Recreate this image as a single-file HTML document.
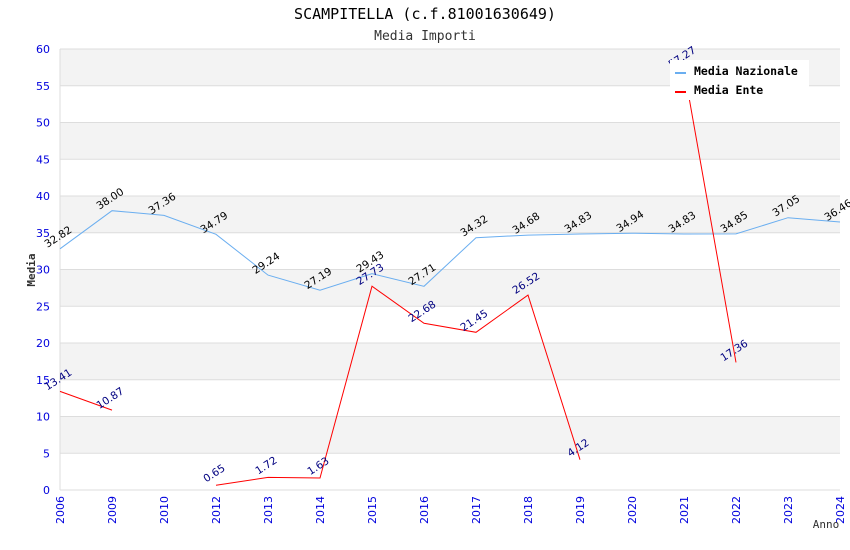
<!DOCTYPE html>
<html><head><meta charset="utf-8"><style>
body{margin:0;background:#fff;}
svg{display:block;}
</style></head><body>
<svg id="chart" width="850" height="550" xmlns="http://www.w3.org/2000/svg">
<text x="425" y="19" text-anchor="middle" font-family="DejaVu Sans Mono, monospace" font-size="15" fill="#000">SCAMPITELLA (c.f.81001630649)</text>
<text x="425" y="40" text-anchor="middle" font-family="DejaVu Sans Mono, monospace" font-size="13" fill="#333">Media Importi</text>
<g id="bands"></g>
<g id="grid"></g>
<g id="yticks"></g>
<g id="xticks"></g>
<g id="series"></g>
<g id="labels"></g>
<text transform="translate(35,270) rotate(-90)" text-anchor="middle" font-family="DejaVu Sans Mono, monospace" font-size="11" font-weight="bold" fill="#333">Media</text>
<text x="826" y="528" text-anchor="middle" font-family="DejaVu Sans Mono, monospace" font-size="11" fill="#333">Anno</text>
<g>
<rect x="670" y="60" width="139" height="40" fill="#fff"/>
<line x1="675" y1="73" x2="686" y2="73" stroke="#6aaef0" stroke-width="2"/>
<text x="694" y="75" font-family="DejaVu Sans Mono, monospace" font-size="11.5" font-weight="bold">Media Nazionale</text>
<line x1="675" y1="92" x2="686" y2="92" stroke="#ff0000" stroke-width="2"/>
<text x="694" y="94" font-family="DejaVu Sans Mono, monospace" font-size="11.5" font-weight="bold">Media Ente</text>
</g>
</svg>
<script>
const categories=["2006","2009","2010","2012","2013","2014","2015","2016","2017","2018","2019","2020","2021","2022","2023","2024"];
const nazionale=[32.82,38.00,37.36,34.79,29.24,27.19,29.43,27.71,34.32,34.68,34.83,34.94,34.83,34.85,37.05,36.46];
const ente=[13.41,10.87,null,0.65,1.72,1.63,27.73,22.68,21.45,26.52,4.12,null,57.27,17.36,null,null];
const yTicks=[0,5,10,15,20,25,30,35,40,45,50,55,60];
const NS="http://www.w3.org/2000/svg";
const L=60,R=840,T=49,B=490,yMax=60;
const x=i=>L+i*(R-L)/(categories.length-1);
const y=v=>B-v*(B-T)/yMax;
function mk(tag,attrs,parent){const e=document.createElementNS(NS,tag);for(const k in attrs)e.setAttribute(k,attrs[k]);document.getElementById(parent).appendChild(e);return e;}
for(let i=0;i<yTicks.length-1;i++){
  if(i%2===1){const r=mk('rect',{x:L,y:y(yTicks[i+1]),width:R-L,height:y(yTicks[i])-y(yTicks[i+1]),fill:'#f3f3f3'},'bands');
  
  }
}
yTicks.forEach(v=>{
  const g=mk('line',{x1:L,x2:R,y1:y(v),y2:y(v),stroke:'#dddddd','stroke-width':1},'grid');
  
  
  const t=mk('text',{x:L-10,y:y(v)+4,'text-anchor':'end','font-family':'DejaVu Sans, sans-serif','font-size':11,fill:'#0000dd'},'yticks');
  
  
  t.textContent=v;
});
const ax=mk('line',{x1:L,x2:L,y1:T,y2:B,stroke:'#dddddd'},'grid');


categories.forEach((c,i)=>{
  const t=mk('text',{transform:`translate(${x(i)+4},${B+6}) rotate(-90)`,'text-anchor':'end','font-family':'DejaVu Sans, sans-serif','font-size':11,fill:'#0000dd'},'xticks');
  
  
  t.textContent=c;
});
function draw(data,color,lblColor,name){
  let d='',pen=false;
  data.forEach((v,i)=>{
    if(v===null){pen=false;return;}
    d+=(pen?'L':'M')+x(i).toFixed(1)+' '+y(v).toFixed(1)+' ';pen=true;
    const t=mk('text',{transform:`translate(${x(i)},${y(v)-9}) rotate(-33)`,'text-anchor':'middle','font-family':'DejaVu Sans, sans-serif','font-size':10.5,fill:lblColor},'labels');
    
    
    t.textContent=v.toFixed(2);
  });
  const p=mk('path',{d:d,fill:'none',stroke:color,'stroke-width':1},'series');
  
  
}
draw(nazionale,'#6aaef0','#000','nazionale');
draw(ente,'#ff0000','#000080','ente');
</script>
</body></html>
